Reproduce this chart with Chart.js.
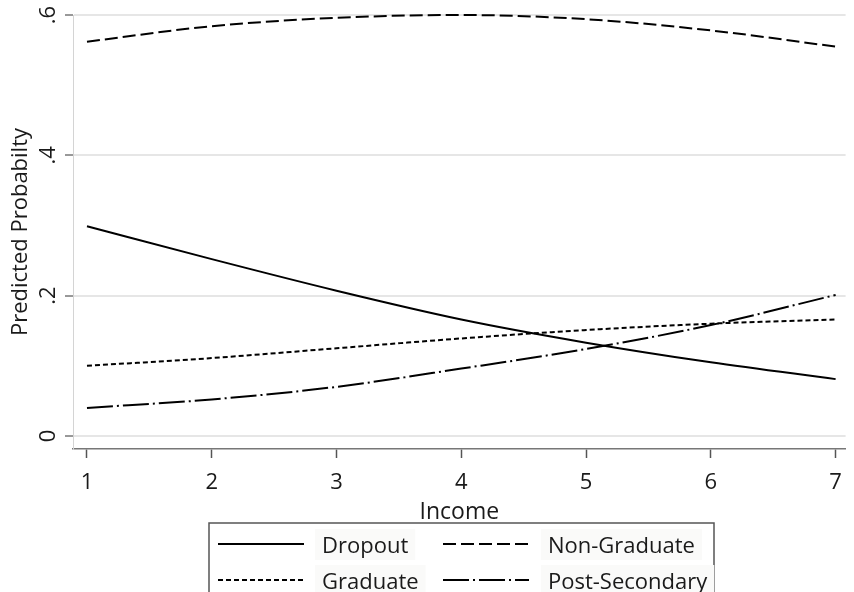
<!DOCTYPE html>
<html>
<head>
<meta charset="utf-8">
<title>Predicted Probability by Income</title>
<script src="https://cdn.jsdelivr.net/npm/chart.js@4.4.0/dist/chart.umd.min.js"></script>
<style>
  body { margin: 0; background: #fff; }
  canvas { display: block; }
</style>
</head>
<body>
<canvas id="myChart" width="854" height="592"></canvas>
<script>
// values
const income = [1, 2, 3, 4, 5, 6, 7];
const dropout = [0.299, 0.252, 0.207, 0.166, 0.133, 0.105, 0.081];
const nonGraduate = [0.562, 0.584, 0.596, 0.600, 0.594, 0.578, 0.555];
const graduate = [0.100, 0.111, 0.125, 0.139, 0.151, 0.160, 0.166];
const postSecondary = [0.040, 0.052, 0.070, 0.096, 0.124, 0.158, 0.201];

const xTicks = [1, 2, 3, 4, 5, 6, 7];
const yTicks = [0, 0.2, 0.4, 0.6];
const yTickLabels = ["0", ".2", ".4", ".6"];
const xTitle = "Income";
const yTitle = "Predicted Probabilty";

const FONT = "'Open Sans', 'Noto Sans', sans-serif";

const toPoints = (ys) => income.map((x, i) => ({ x: x, y: ys[i] }));

const line = (label, ys, dash) => ({
  label: label,
  data: toPoints(ys),
  borderColor: "#000",
  borderWidth: 2,
  borderDash: dash,
  pointRadius: 0,
  fill: false,
  clip: 3,
  cubicInterpolationMode: "monotone",
});

// stata style bits: rotated y labels, titles and the boxed legend
const extras = {
  id: "extras",
  afterDraw(chart) {
    const ctx = chart.ctx;
    const area = chart.chartArea;
    const y = chart.scales.y;

    ctx.save();
    ctx.fillStyle = "#1a1a1a";
    ctx.textAlign = "center";
    ctx.textBaseline = "middle";

    ctx.font = "22px " + FONT;
    yTicks.forEach((v, i) => {
      ctx.save();
      ctx.translate(49, y.getPixelForValue(v));
      ctx.rotate(-Math.PI / 2);
      ctx.fillText(yTickLabels[i], 0, 0);
      ctx.restore();
    });

    ctx.save();
    ctx.translate(21, (area.top + area.bottom) / 2);
    ctx.rotate(-Math.PI / 2);
    ctx.fillText(yTitle, 0, 0);
    ctx.restore();

    ctx.font = "23px " + FONT;
    ctx.textBaseline = "alphabetic";
    ctx.fillText(xTitle, (area.left + area.right) / 2, 519);

    // legend box
    ctx.strokeStyle = "#555";
    ctx.lineWidth = 1.5;
    ctx.strokeRect(209, 523, 505, 100);

    const rows = [544, 580];
    const cols = [
      { x0: 218, x1: 304, tx: 322 },
      { x0: 443, x1: 529, tx: 548 },
    ];
    ctx.font = "22px " + FONT;
    ctx.textAlign = "left";
    chart.data.datasets.forEach((ds, i) => {
      const c = cols[i % 2];
      const r = rows[Math.floor(i / 2)];
      const w = ctx.measureText(ds.label).width;
      ctx.fillStyle = "#fafaf9";
      ctx.fillRect(c.tx - 7, r - 15, w + 14, 31);

      ctx.strokeStyle = "#000";
      ctx.lineWidth = 2;
      ctx.setLineDash(ds.borderDash);
      ctx.beginPath();
      ctx.moveTo(c.x0, r);
      ctx.lineTo(c.x1, r);
      ctx.stroke();
      ctx.setLineDash([]);

      ctx.fillStyle = "#1a1a1a";
      ctx.fillText(ds.label, c.tx, r + 9);
    });
    ctx.restore();
  },
};

const ctx = document.getElementById("myChart");

new Chart(ctx, {
  type: "line",
  data: {
    datasets: [
      line("Dropout", dropout, []),
      line("Non-Graduate", nonGraduate, [13, 5]),
      line("Graduate", graduate, [5, 3]),
      line("Post-Secondary", postSecondary, [26, 4, 2, 4]),
    ],
  },
  options: {
    responsive: false,
    animation: false,
    layout: { padding: { top: 15, right: 6, left: 0, bottom: 0 } },
    plugins: {
      legend: { display: false },
      tooltip: { enabled: false },
    },
    scales: {
      x: {
        type: "linear",
        min: 0.888,
        max: 7.08,
        afterFit: (s) => {
          s.height = 143;
        },
        afterBuildTicks: (s) => {
          s.ticks = xTicks.map((v) => ({ value: v }));
        },
        grid: {
          drawOnChartArea: false,
          drawTicks: true,
          tickLength: 9,
          tickColor: "#555",
          tickWidth: 1.5,
        },
        border: { color: "#777", width: 1.5 },
        ticks: {
          color: "#1a1a1a",
          padding: 12,
          maxRotation: 0,
          font: { family: FONT, size: 22 },
        },
      },
      y: {
        type: "linear",
        min: -0.0186,
        max: 0.6,
        afterFit: (s) => {
          s.width = 73;
        },
        afterBuildTicks: (s) => {
          s.ticks = yTicks.map((v) => ({ value: v }));
        },
        grid: {
          color: "#e6e6e6",
          lineWidth: 2,
          drawTicks: true,
          tickLength: 8,
          tickColor: "#333",
          tickWidth: 1,
        },
        border: { color: "#d4d4d4", width: 1 },
        ticks: { display: false },
      },
    },
  },
  plugins: [extras],
});
</script>
</body>
</html>
